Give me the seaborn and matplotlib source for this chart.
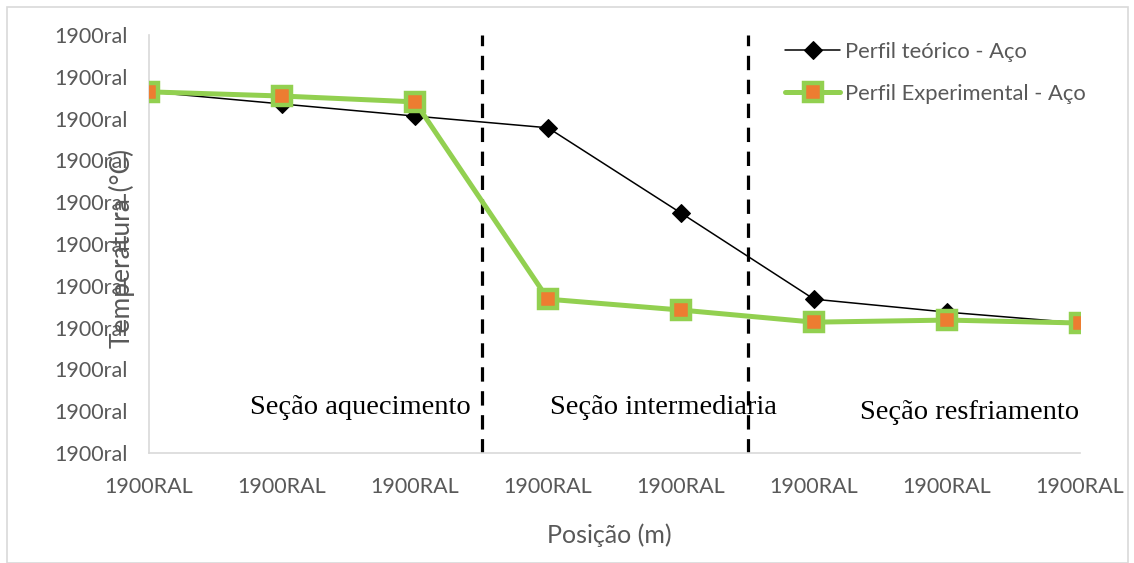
import matplotlib
matplotlib.use("Agg")
import matplotlib.pyplot as plt
import seaborn as sns
import pandas as pd
from matplotlib.patches import Rectangle

# Data (in y-tick units)
positions = [0, 1, 2, 3, 4, 5, 6, 7]
teorico = [8.64, 8.35, 8.06, 7.78, 5.74, 3.68, 3.37, 3.11]
experimental = [8.64, 8.54, 8.40, 3.68, 3.42, 3.13, 3.18, 3.11]
y_ticks = list(range(0, 11))
y_tick_labels = ["1900ral"] * 11
x_tick_labels = ["1900RAL"] * 8
section_bounds = [2.5, 4.5]
section_labels = ["Seção aquecimento", "Seção intermediaria", "Seção resfriamento"]
section_pos = [(1.59, 1.1), (3.87, 1.1), (6.17, 0.98)]

sns.set_theme(style="white")
plt.rcParams['font.family'] = ['Lato', 'DejaVu Sans']

df = pd.DataFrame({"pos": positions, "teo": teorico, "exp": experimental})

fig = plt.figure(figsize=(11.34, 5.63), dpi=100)
ax = fig.add_axes([149/1134, 1 - 453/563, (1080-149)/1134, (453-35)/563])

gray = "#595959"
green = "#92D050"
orange = "#ED7D31"

sns.lineplot(data=df, x="pos", y="teo", ax=ax, color="black", linewidth=1.1,
             marker="D", markersize=9.5, markeredgecolor="black",
             label="Perfil teórico - Aço", zorder=3)
sns.lineplot(data=df, x="pos", y="exp", ax=ax, color=green, linewidth=3.6,
             marker="s", markersize=13, markerfacecolor=orange,
             markeredgecolor=green, markeredgewidth=3.2,
             label="Perfil Experimental - Aço", zorder=4)

for b in section_bounds:
    ax.axvline(b, color="black", linewidth=2.3, linestyle=(0, (4.5, 3.0)), zorder=2)

for txt, (xx, yy) in zip(section_labels, section_pos):
    ax.text(xx, yy, txt, ha="center", va="center", fontsize=20.5,
            family=["Liberation Serif", "DejaVu Serif"], color="black")

ax.set_xlim(0, 7)
ax.set_ylim(0, 10)
ax.set_yticks(y_ticks)
ax.set_yticklabels(y_tick_labels)
ax.set_xticks(positions)
ax.set_xticklabels(x_tick_labels)
ax.tick_params(axis="y", labelsize=15.5, colors=gray, length=0, pad=15)
ax.tick_params(axis="x", labelsize=15.5, colors=gray, length=0, pad=17)

ax.set_ylabel("Temperatura (°C)", fontsize=19, color=gray)
ax.yaxis.set_label_coords(-0.015, 0.49)
ax.set_xlabel("Posição (m)", fontsize=18, color=gray)
ax.xaxis.set_label_coords(0.494, -0.168)

for s in ["top", "right"]:
    ax.spines[s].set_visible(False)
for s in ["left", "bottom"]:
    ax.spines[s].set_color("#D9D9D9")
    ax.spines[s].set_linewidth(1.2)

leg = ax.legend(loc="upper left", bbox_to_anchor=(0.662, 1.031), frameon=False,
                fontsize=15.8, handlelength=2.5, labelspacing=1.0, handletextpad=0.25)
for t in leg.get_texts():
    t.set_color(gray)

fig.patches.append(Rectangle((7/1134, 0), (1128-7)/1134, 1 - 7/563,
                             transform=fig.transFigure, fill=False,
                             edgecolor="#D9D9D9", linewidth=1.2))

fig.savefig("out.png", dpi=100)
